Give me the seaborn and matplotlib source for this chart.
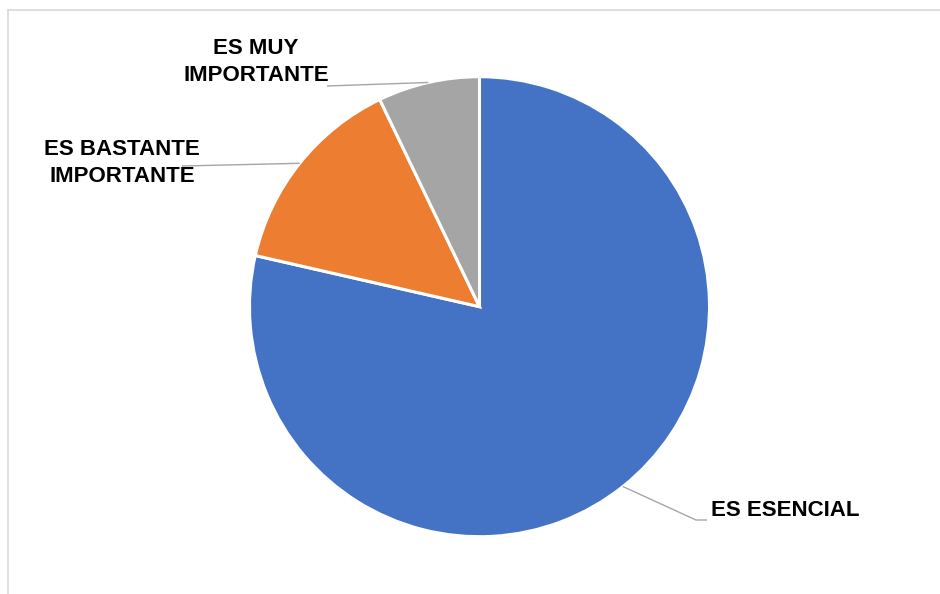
import numpy as np
import matplotlib
matplotlib.use("Agg")
import matplotlib.pyplot as plt
from matplotlib.lines import Line2D
import seaborn as sns

# Response counts per category
categories = ["ES ESENCIAL", "ES BASTANTE\nIMPORTANTE", "ES MUY\nIMPORTANTE"]
counts = [33, 6, 3]
colors = ["#4472C4", "#ED7D31", "#A5A5A5"]

sns.set_theme(style="white")
plt.rcParams["font.family"] = ["Liberation Sans", "DejaVu Sans"]

W, H, DPI = 940, 594, 100
fig = plt.figure(figsize=(W / DPI, H / DPI), dpi=DPI)
fig.patch.set_facecolor("white")

# Pie centre and radius in pixels; axes spans the whole figure at 1 unit = R px
CX, CY, R = 479.5, 306.7, 230.0
ax = fig.add_axes([0, 0, 1, 1])
ax.set_axis_off()

wedges, _ = ax.pie(
    counts,
    colors=colors,
    startangle=90,
    counterclock=False,
    radius=1.0,
    wedgeprops=dict(edgecolor="white", linewidth=2.2),
)
ax.set_xlim(-CX / R, (W - CX) / R)
ax.set_ylim(-(H - CY) / R, CY / R)
ax.set_aspect("auto")


def to_data(px, py):
    return (px - CX) / R, (CY - py) / R


# Label layout: text anchor (px), alignment, leader line path after the rim point
label_layout = [
    dict(text=(711, 511), ha="left", path=[(696, 520), (707, 520)]),
    dict(text=(122, 163), ha="center", path=[(182, 166)]),
    dict(text=(256, 62), ha="center", path=[(327, 86)]),
]

leader_color = "#A6A6A6"
for wedge, label, lay in zip(wedges, categories, label_layout):
    mid = np.deg2rad((wedge.theta1 + wedge.theta2) / 2.0)
    rim = (np.cos(mid), np.sin(mid))
    pts = [rim] + [to_data(*p) for p in lay["path"]]
    xs, ys = zip(*pts)
    ax.plot(xs, ys, color=leader_color, lw=1.0, solid_capstyle="butt", zorder=1)
    tx, ty = to_data(*lay["text"])
    ax.text(tx, ty, label, ha=lay["ha"], va="center", fontsize=16,
            fontweight="bold", color="black", linespacing=1.35,
            multialignment="center", zorder=3)

# Chart area frame (top and left edges visible)
frame_color = "#D9D9D9"
fig.add_artist(Line2D([8 / W, 1.0], [1 - 10 / H, 1 - 10 / H], color=frame_color,
                      lw=1.2, transform=fig.transFigure))
fig.add_artist(Line2D([8 / W, 8 / W], [0.0, 1 - 10 / H], color=frame_color,
                      lw=1.2, transform=fig.transFigure))

fig.savefig("out.png", dpi=DPI, facecolor="white")
